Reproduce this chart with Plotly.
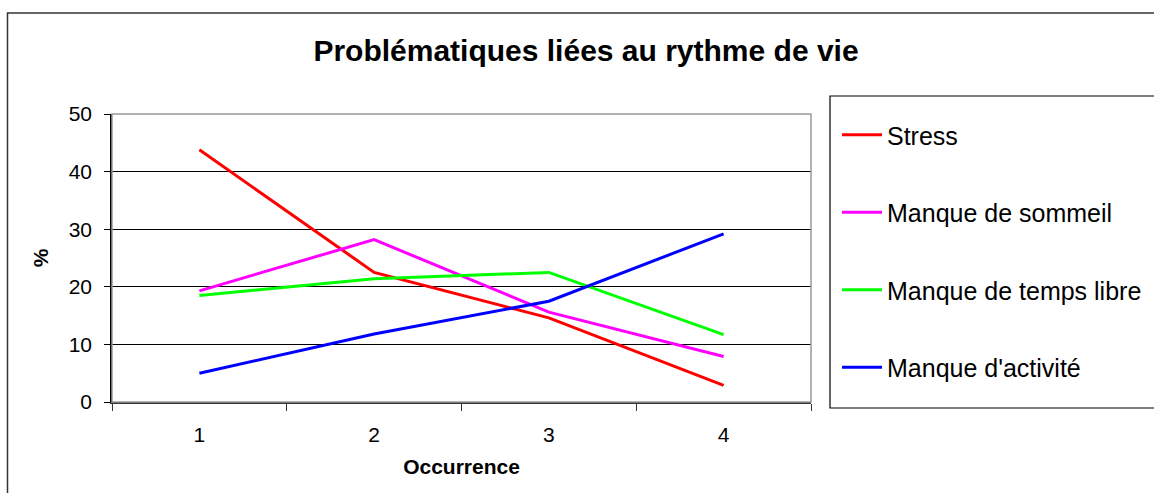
import plotly.graph_objects as go

occurrences = ["1", "2", "3", "4"]
stress = [43.8, 22.5, 14.6, 2.9]
sommeil = [19.3, 28.2, 15.6, 7.9]
temps_libre = [18.5, 21.4, 22.5, 11.7]
activite = [5.0, 11.8, 17.5, 29.2]

series = [
    ("Stress", stress, "#FF0000"),
    ("Manque de sommeil", sommeil, "#FF00FF"),
    ("Manque de temps libre", temps_libre, "#00FF00"),
    ("Manque d'activité", activite, "#0000FF"),
]

W, H = 1154, 493
# target screen pixels of the plot area
L, R, T, B = 112, 811, 114, 402


def px(x):
    return (x - L) / (R - L)


def py(y):
    return (B - y) / (B - T)


fig = go.Figure()
for i, (name, vals, col) in enumerate(series):
    fig.add_trace(go.Scatter(
        x=occurrences, y=vals, name=name, mode="lines",
        line=dict(color=col, width=3), legendgroup=f"g{i}",
    ))

font_family = "Liberation Sans, Arial, sans-serif"

fig.update_layout(
    width=W, height=H,
    margin=dict(l=L, r=W - R, t=T, b=H - B, autoexpand=False),
    paper_bgcolor="white", plot_bgcolor="white",
    font=dict(family=font_family, color="black", size=21),
    title=dict(text="<b>Problématiques liées au rythme de vie</b>",
               x=586 / W, xref="container", xanchor="center",
               y=1 - 50 / H, yref="container", yanchor="middle",
               font=dict(size=30, family=font_family)),
    showlegend=True,
    legend=dict(x=px(837), y=py(112), xanchor="left", yanchor="top",
                bgcolor="rgba(0,0,0,0)", borderwidth=0,
                font=dict(size=25, family=font_family),
                traceorder="grouped", tracegroupgap=42,
                itemwidth=40, maxheight=480),
    xaxis=dict(type="category", categoryorder="array", categoryarray=occurrences,
               range=[-0.5, 3.5],
               showgrid=False, zeroline=False,
               showline=True, linecolor="#333333", linewidth=1.5,
               ticks="outside", tickson="boundaries", ticklen=7,
               tickcolor="#333333", ticklabelstandoff=13,
               title=dict(text="<b>Occurrence</b>", font=dict(size=21), standoff=14)),
    yaxis=dict(range=[0, 50], tickmode="linear", tick0=0, dtick=10,
               showgrid=True, gridcolor="black", gridwidth=1,
               zeroline=False, showline=True, linecolor="black", linewidth=1.5,
               ticks="outside", ticklen=6, tickcolor="black",
               ticklabelstandoff=8,
               title=dict(text="<b>%</b>", font=dict(size=21), standoff=14)),
    shapes=[
        # plot area border (gray)
        dict(type="rect", xref="paper", yref="paper", x0=0, x1=1, y0=0, y1=1,
             line=dict(color="#999999", width=1.5), layer="above"),
        # legend box
        dict(type="rect", xref="paper", yref="paper",
             x0=px(830), x1=px(1175), y0=py(408), y1=py(96),
             line=dict(color="black", width=1.2), layer="below"),
        # outer chart frame
        dict(type="rect", xref="paper", yref="paper",
             x0=px(7.5), x1=px(1190), y0=py(530), y1=py(13),
             line=dict(color="#333333", width=1.5), layer="below"),
    ],
)

fig.write_html(
    "out.html",
    config={"displayModeBar": False},
    post_script="document.body.style.margin='0';document.body.style.overflow='hidden';",
)
